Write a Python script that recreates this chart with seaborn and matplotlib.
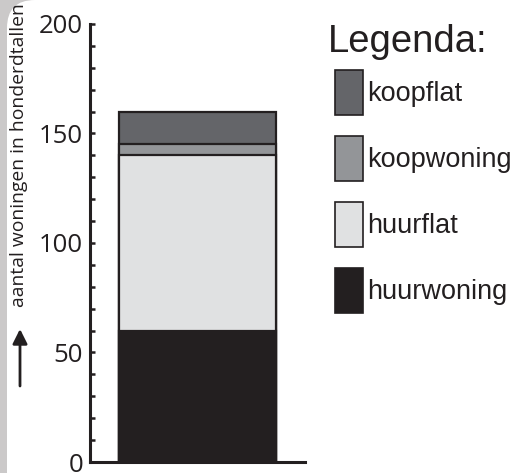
import matplotlib
matplotlib.use("Agg")
import matplotlib.pyplot as plt
import seaborn as sns
import pandas as pd
import numpy as np
from matplotlib.patches import Patch, FancyBboxPatch
from matplotlib.ticker import MultipleLocator

# ---- data ----
categories = ["huurwoning", "huurflat", "koopwoning", "koopflat"]
values = [60, 80, 5, 15]
colors = ["#231f20", "#e0e1e2", "#939598", "#646569"]
legend_order = ["koopflat", "koopwoning", "huurflat", "huurwoning"]
yticks = [0, 50, 100, 150, 200]
ylabel = "aantal woningen in honderdtallen"
legend_title = "Legenda:"

sns.set_theme(style="white")
plt.rcParams["font.family"] = ["Open Sans", "DejaVu Sans"]

W, H = 519, 473
fig = plt.figure(figsize=(W / 100, H / 100), dpi=100)
fig.patch.set_facecolor("#cbc9c9")
bg = FancyBboxPatch((7 / 100, -1.0), 10.0, H / 100 + 1.0,
                    boxstyle="round,pad=0,rounding_size=0.28",
                    transform=fig.dpi_scale_trans, facecolor="white",
                    edgecolor="none", zorder=0)
fig.add_artist(bg)

ax = fig.add_axes([90 / W, 11 / H, 215 / W, 438 / H])
ax.set_facecolor("white")

cum = np.cumsum(values)
df = pd.DataFrame({"cat": categories, "cum": cum, "color": colors})
# draw from the top of the stack down so lower segments overlay
for i in range(len(categories) - 1, -1, -1):
    sub = df.iloc[[i]].assign(x=0)
    sns.barplot(data=sub, x="x", y="cum", color=colors[i], saturation=1,
                edgecolor="#231f20", linewidth=1.6, width=0.73, ax=ax)

ax.set_xlim(-0.5, 0.5)
ax.set_ylim(0, 200)
ax.set_yticks(yticks)
ax.set_yticklabels([str(t) for t in yticks], fontsize=18.5, color="#231f20")
ax.yaxis.set_minor_locator(MultipleLocator(10))
ax.tick_params(axis="y", which="both", direction="in", length=3.5, width=1.8,
               color="#231f20", left=True, pad=5)
ax.tick_params(axis="x", bottom=False, labelbottom=False)
ax.set_xlabel("")
ax.set_ylabel("")
for s in ["top", "right"]:
    ax.spines[s].set_visible(False)
for s in ["left", "bottom"]:
    ax.spines[s].set_linewidth(2.2)
    ax.spines[s].set_color("#231f20")

fig.text(19 / W, 1 - 155 / H, ylabel, rotation=90, ha="center", va="center",
         fontsize=13.9, color="#231f20")
ax.annotate("", xy=(20 / W, 1 - 329 / H), xytext=(20 / W, 1 - 386 / H),
            xycoords="figure fraction", textcoords="figure fraction",
            arrowprops=dict(arrowstyle="-|>", lw=2, color="#231f20",
                            mutation_scale=22, shrinkA=0, shrinkB=0))

fig.text(328 / W, 1 - 52 / H, legend_title, ha="left", va="baseline",
         fontsize=27.5, family=["Liberation Sans"], color="#231f20")

cmap = dict(zip(categories, colors))
handles = [Patch(facecolor=cmap[c], edgecolor="#231f20", linewidth=1.2)
           for c in legend_order]
leg = fig.legend(handles, legend_order, loc="upper left",
                 bbox_to_anchor=(335 / W, 1 - 70 / H), frameon=False,
                 prop={"family": ["Liberation Sans"], "size": 19.5},
                 handlelength=1.02, handleheight=2.18,
                 handletextpad=0.15, labelspacing=0.77, borderpad=0,
                 borderaxespad=0)
for t in leg.get_texts():
    t.set_color("#231f20")

fig.savefig("out.png", dpi=100, facecolor=fig.get_facecolor())
